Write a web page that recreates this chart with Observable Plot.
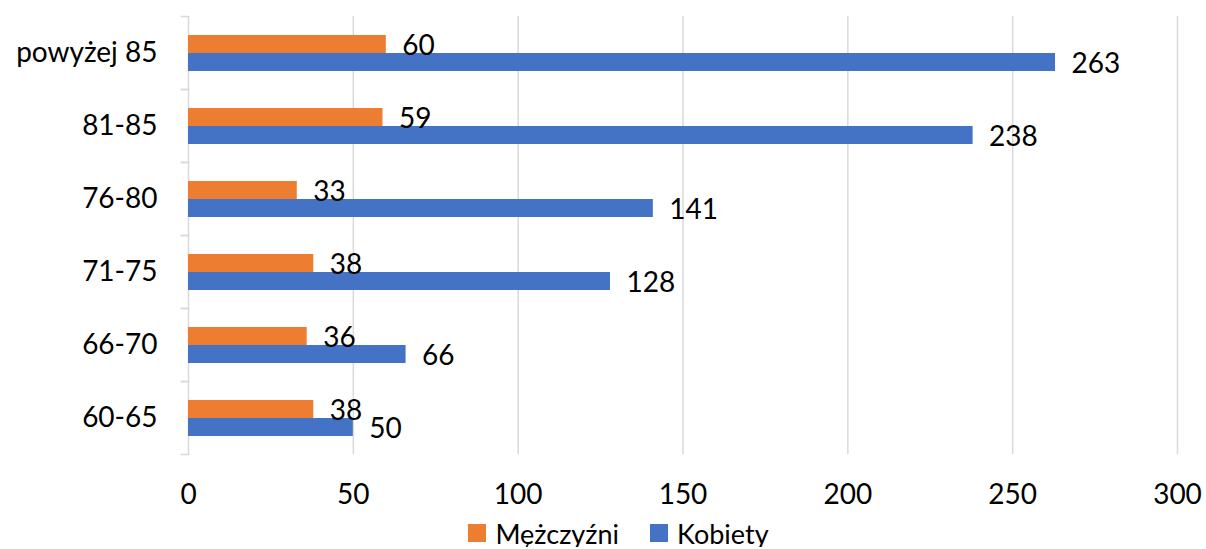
<!DOCTYPE html>
<html>
<head>
<meta charset="utf-8">
<script src="https://cdn.jsdelivr.net/npm/d3@7"></script>
<script src="https://cdn.jsdelivr.net/npm/@observablehq/plot@0.6"></script>
<style>
  body { margin: 0; background: #fff; font-family: Lato, sans-serif; }
  #legend { display: flex; justify-content: center; align-items: center; gap: 31px; padding-left: 31px; width: 1175px; height: 28px; line-height: 1; font-size: 27px; color: #000; margin-top: 4px; }
  .item { display: flex; align-items: center; gap: 9px; }
  .sw { width: 18px; height: 18px; display: inline-block; }
</style>
</head>
<body>
<div id="chart"></div>
<div id="legend"></div>
<script>
const categories = ["60-65", "66-70", "71-75", "76-80", "81-85", "powyżej 85"];
const series = ["Mężczyźni", "Kobiety"];
const colors = ["#ED7D31", "#4472C4"];
const men = [38, 36, 38, 33, 59, 60];
const women = [50, 66, 128, 141, 238, 263];
const xTicks = [0, 50, 100, 150, 200, 250, 300];

const data = categories.flatMap((c, i) => [
  {cat: c, series: series[0], value: men[i]},
  {cat: c, series: series[1], value: women[i]}
]);

const grid = "#d9d9d9";
const chart = Plot.plot({
  width: 1206,
  height: 515,
  marginLeft: 188,
  marginRight: 29,
  marginTop: 15,
  marginBottom: 60,
  style: {fontFamily: "Lato, sans-serif", fontSize: "28px", color: "#000", background: "white", overflow: "visible"},
  x: {domain: [0, 300], ticks: xTicks},
  fy: {domain: categories.slice().reverse(), padding: 0, label: null},
  y: {domain: series, paddingInner: 0, paddingOuter: 0.93, axis: null},
  color: {domain: series, range: colors},
  marks: [
    Plot.ruleX(xTicks.filter(t => t > 0), {stroke: grid, strokeWidth: 1.5}),
    Plot.ruleX([0], {stroke: grid, strokeWidth: 1.5}),
    Plot.frame({anchor: "top", stroke: grid, strokeWidth: 1.5, insetLeft: -7, insetRight: 989}),
    Plot.frame({anchor: "bottom", stroke: grid, strokeWidth: 1.5, insetLeft: -7, insetRight: 989}),
    Plot.barX(data, {fy: "cat", y: "series", x: "value", fill: "series"}),
    Plot.text(data, {fy: "cat", y: "series", x: "value", text: d => String(d.value), textAnchor: "start", dx: 16, dy: 2, fill: "#000", fontSize: 28}),
    Plot.axisX({ticks: xTicks, tickSize: 0, tickPadding: 30, label: null, fontSize: 28}),
    Plot.axisFy({anchor: "left", tickSize: 0, tickPadding: 31, label: null, fontSize: 28})
  ]
});
document.getElementById("chart").appendChild(chart);

const legend = document.getElementById("legend");
series.forEach((s, i) => {
  const item = document.createElement("div");
  item.className = "item";
  const sw = document.createElement("span");
  sw.className = "sw";
  sw.style.background = colors[i];
  const t = document.createElement("span");
  t.textContent = s;
  item.appendChild(sw);
  item.appendChild(t);
  legend.appendChild(item);
});
</script>
</body>
</html>
